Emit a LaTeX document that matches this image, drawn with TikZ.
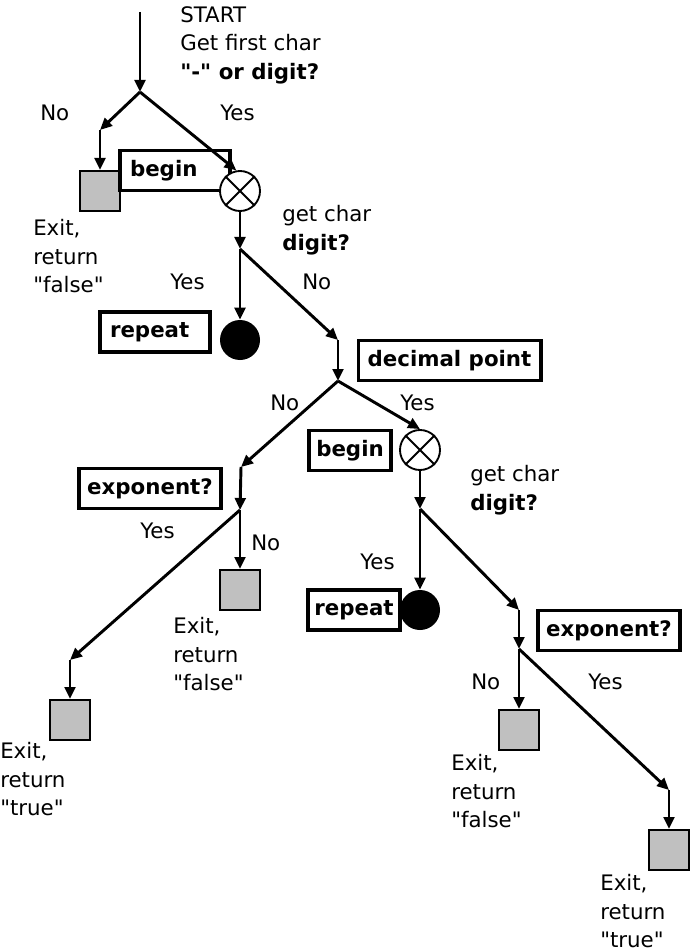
\documentclass[tikz,border=0pt]{standalone}
\usepackage{fontspec}
\setmainfont{DejaVu Sans}[Ligatures=TeXOff]
\definecolor{exitgray}{RGB}{192,192,192}
\usetikzlibrary{arrows.meta}

\begin{document}
\begin{tikzpicture}[x=0.75pt, y=-0.75pt,
    box/.style={rectangle, draw, line width=2.5pt, minimum height=30pt, inner sep=0pt,
      fill=white, font=\fontsize{16}{21.5}\selectfont\bfseries},
    exitbox/.style={rectangle, draw, line width=1.5pt, fill=exitgray, minimum size=30pt, inner sep=0pt},
    xcirc/.style={circle, draw, line width=1.4pt, fill=white, minimum size=30pt, inner sep=0pt},
    dot/.style={circle, fill=black, minimum size=30pt, inner sep=0pt},
    txt/.style={inner sep=0pt, align=left, anchor=north west, font=\fontsize{16}{21.5}\selectfont},
    lbl/.style={inner sep=0pt, anchor=west, font=\fontsize{16}{21.5}\selectfont},
    arr/.style={-{Triangle[length=9pt, width=8pt]}, line width=2.2pt}
  ]
  \useasboundingbox (0,0) rectangle (691,952);

  % first char
  \coordinate (top) at (140,12);
  \coordinate (j1)  at (140,92);
  \coordinate (b1)  at (100,130);
  \node[txt] (starttxt) at (180,6) {START\\Get first char\\\textbf{"-" or digit?}};
  \node[exitbox] (ex1) at (100,191) {};
  \node[box, minimum width=82.5pt, text width=67.5pt, align=left] (beg1) at (175,170.5) {begin};
  \node[xcirc] (cx1) at (240,191) {};
  \draw[line width=1.4pt] (cx1.45) -- (cx1.225) (cx1.135) -- (cx1.315);
  \node[lbl] (no1)  at (40,113)  {No};
  \node[lbl] (yes1) at (220,113) {Yes};
  \node[txt] (exittxt1) at (33,219) {Exit,\\return\\"false"};

  \draw[arr] (top) -- (j1);
  \draw[arr] (j1) -- (b1);
  \draw[arr] (b1) -- (ex1.north);
  \draw[arr] (j1) -- (cx1.100);

  % integer digits
  \coordinate (j2) at (240,249);
  \coordinate (b2) at (338,340);
  \node[txt] (gettxt1) at (282,205) {get char\\\textbf{digit?}};
  \node[box, minimum width=82.5pt, text width=67.5pt, align=left] (rep1) at (155,332) {repeat};
  \node[dot] (dot1) at (240,340) {};
  \node[lbl] (yes2) at (170,282) {Yes};
  \node[lbl] (no2)  at (302,282) {No};

  \draw[arr] (cx1.south) -- (j2);
  \draw[arr] (j2) -- (dot1.north);
  \draw[arr] (j2) -- (b2);

  % decimal point
  \coordinate (j3) at (338,381);
  \coordinate (b3) at (241,467);
  \node[box, minimum width=137pt] (dec) at (449.5,360.5) {decimal point};
  \node[lbl] (no3)  at (270,403) {No};
  \node[lbl] (yes3) at (400,403) {Yes};
  \node[box, minimum width=61.5pt] (beg2) at (350,450.5) {begin};
  \node[xcirc] (cx2) at (420,450) {};
  \draw[line width=1.4pt] (cx2.45) -- (cx2.225) (cx2.135) -- (cx2.315);

  \draw[arr] (b2) -- (j3);
  \draw[arr] (j3) -- (b3);
  \draw[arr] (j3) -- (cx2.north);

  % exponent, no fraction
  \coordinate (j4) at (240,510);
  \coordinate (b4) at (70,660);
  \node[box, minimum width=106.5pt] (exp1) at (150,488.5) {exponent?};
  \node[lbl] (yes4) at (140,531) {Yes};
  \node[lbl] (no4)  at (251,543) {No};
  \node[exitbox] (ex2) at (240,590) {};
  \node[exitbox] (ex3) at (70,720) {};
  \node[txt] (exittxt2) at (173,617) {Exit,\\return\\"false"};
  \node[txt] (exittxt3) at (0,742) {Exit,\\return\\"true"};

  \draw[arr] (b3) -- (j4);
  \draw[arr] (j4) -- (ex2.north);
  \draw[arr] (j4) -- (b4);
  \draw[arr] (b4) -- (ex3.north);

  % fraction digits
  \coordinate (j5) at (420,509);
  \coordinate (b5) at (519,610);
  \node[txt] (gettxt2) at (470,465) {get char\\\textbf{digit?}};
  \node[box, minimum width=69pt] (rep2) at (354,610) {repeat};
  \node[dot] (dot2) at (420,610) {};
  \node[lbl] (yes5) at (360,562) {Yes};

  \draw[arr] (cx2.south) -- (j5);
  \draw[arr] (j5) -- (dot2.north);
  \draw[arr] (j5) -- (b5);

  % exponent after fraction
  \coordinate (j6) at (519,649);
  \coordinate (b6) at (669,790);
  \node[box, minimum width=106.5pt] (exp2) at (609,630.5) {exponent?};
  \node[lbl] (no6)  at (471,682) {No};
  \node[lbl] (yes6) at (588,682) {Yes};
  \node[exitbox] (ex4) at (519,730) {};
  \node[exitbox] (ex5) at (669,850) {};
  \node[txt] (exittxt4) at (451,754) {Exit,\\return\\"false"};
  \node[txt] (exittxt5) at (600,874) {Exit,\\return\\"true"};

  \draw[arr] (b5) -- (j6);
  \draw[arr] (j6) -- (ex4.north);
  \draw[arr] (j6) -- (b6);
  \draw[arr] (b6) -- (ex5.north);
\end{tikzpicture}
\end{document}
